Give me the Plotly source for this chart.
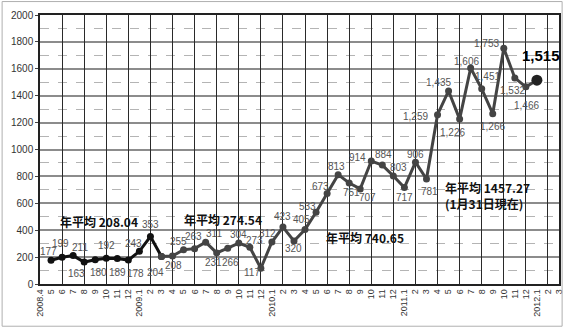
import plotly.graph_objects as go

# Month tick labels, April 2008 through March 2012
tick_labels = [
    "2008.4", "5", "6", "7", "8", "9", "10", "11", "12",
    "2009.1", "2", "3", "4", "5", "6", "7", "8", "9", "10", "11", "12",
    "2010.1", "2", "3", "4", "5", "6", "7", "8", "9", "10", "11", "12",
    "2011.1", "2", "3", "4", "5", "6", "7", "8", "9", "10", "11", "12",
    "2012.1", "2", "3",
]

# Monthly values, May 2008 .. January 2012 (one per tick after the first)
values = [
    177, 199, 211, 163, 180, 192, 189, 178,
    243, 353, 204, 208, 255, 263, 311, 231, 266, 304, 273, 117,
    312, 423, 320, 405, 533, 673, 813, 751, 707, 914, 884, 803, 717,
    906, 781, 1259, 1435, 1226, 1606, 1451, 1266, 1753, 1532, 1466, 1515,
]

# Yearly averages shown as captions
avg_labels = ["208.04", "274.54", "740.65", "1457.27"]
avg_note = "(1月31日現在)"

positions = list(range(1, len(values) + 1))

# Pixel offsets of each value label from its point (dx, dy)
label_offsets = [
    (-3, 9), (-2, 14), (7, 8), (-8, -11), (3, -13), (0, 13), (0, -14), (7, -13),
    (-6, 8), (0, 12), (-6, -16), (1, -9), (-5, 8), (-1, 12), (8, 9), (-3, -10),
    (3, -14), (0, 9), (5, 7), (-9, -4), (-4, 9), (0, 11), (0, -8), (-4, 10),
    (-9, 6), (-7, 7), (-2, 8), (2, -10), (7, -9), (-14, 4), (1, 11), (5, 9),
    (0, -10), (0, 8), (3, -13), (-22, -2), (-10, 8), (-7, -13), (-4, 6), (6, 12),
    (0, -13), (-17, 5), (-2, -13), (1, -19), (4, 25),
]

split = 11  # first stretch drawn in black, remainder in dark grey
n = len(values)
x_max = len(tick_labels) - 1

fig = go.Figure()
# Empty trace that anchors the overlay axis carrying the vertical grid
fig.add_trace(go.Scatter(
    x=[0, x_max], y=[None, None], xaxis="x2", yaxis="y", mode="lines",
    hoverinfo="skip", showlegend=False,
))
fig.add_trace(go.Scatter(
    x=positions[:split], y=values[:split], mode="lines+markers",
    line=dict(color="#111111", width=3),
    marker=dict(color="#111111", size=7),
    hoverinfo="skip", showlegend=False,
))
fig.add_trace(go.Scatter(
    x=positions[split - 1:], y=values[split - 1:], mode="lines+markers",
    line=dict(color="#444444", width=3),
    marker=dict(color="#444444", size=7),
    hoverinfo="skip", showlegend=False,
))
# Latest month highlighted with a larger dot
fig.add_trace(go.Scatter(
    x=positions[-1:], y=values[-1:], mode="markers",
    marker=dict(color="#222222", size=11, line=dict(width=0)),
    hoverinfo="skip", showlegend=False,
))

annotations = []
for i, (x, v) in enumerate(zip(positions, values)):
    dx, dy = label_offsets[i]
    last = i == n - 1
    annotations.append(dict(
        x=x, y=v, xref="x", yref="y", showarrow=False,
        text=f"<b>{v:,}</b>" if last else f"{v:,}",
        xshift=dx, yshift=dy,
        font=dict(family="Liberation Sans, Arial",
                  size=15 if last else 10,
                  color="#000000" if last else "#555555"),
    ))

cap_font = dict(family="Noto Sans CJK JP, Liberation Sans", size=12, color="#111111")
caption_pos = [(5.33, 468, "center"), (16.6, 483, "center"),
               (29.4, 349, "center"), (36.5, 714, "left")]
for (cx, cy, anchor), a in zip(caption_pos, avg_labels):
    annotations.append(dict(
        x=cx, y=cy, xref="x", yref="y", showarrow=False, xanchor=anchor,
        text=f"<b>年平均 {a}</b>", font=cap_font,
    ))
annotations.append(dict(
    x=36.5, y=595, xref="x", yref="y", showarrow=False, xanchor="left",
    text=f"<b>{avg_note}</b>", font=cap_font,
))

fig.update_layout(
    width=570, height=329, autosize=False,
    margin=dict(l=40, r=6, t=15, b=45),
    paper_bgcolor="white", plot_bgcolor="white",
    annotations=annotations,
    xaxis=dict(
        range=[0, x_max],
        tickmode="array", tickvals=list(range(len(tick_labels))), ticktext=tick_labels,
        tickangle=-90, tickfont=dict(family="Liberation Sans, Arial", size=9, color="#333333"),
        showgrid=False, zeroline=False,
        showline=True, linecolor="#222222", linewidth=1.5, mirror=True,
        ticks="",
    ),
    xaxis2=dict(
        overlaying="x", range=[0, x_max],
        tickmode="linear", tick0=0, dtick=2,
        showgrid=True, gridcolor="#2a2a2a", gridwidth=1.3,
        showticklabels=False, zeroline=False, ticks="", showline=False,
    ),
    yaxis=dict(
        range=[0, 2000], tick0=0, dtick=200,
        tickfont=dict(family="Liberation Sans, Arial", size=10, color="#333333"),
        showgrid=True, gridcolor="#8c8c8c", gridwidth=1.5,
        minor=dict(dtick=100, showgrid=True, gridcolor="#b4b4b4", griddash="dash", gridwidth=1),
        zeroline=False, showline=True, linecolor="#222222", linewidth=1.5, mirror=True,
        ticks="outside", ticklen=3, tickcolor="#444444",
    ),
)

# Light frame around the whole chart
fig.add_shape(type="rect", xref="paper", yref="paper",
              x0=-0.073, x1=1.006, y0=-0.157, y1=1.05,
              line=dict(color="#b0b0b0", width=1))

fig.write_html("out.html")
